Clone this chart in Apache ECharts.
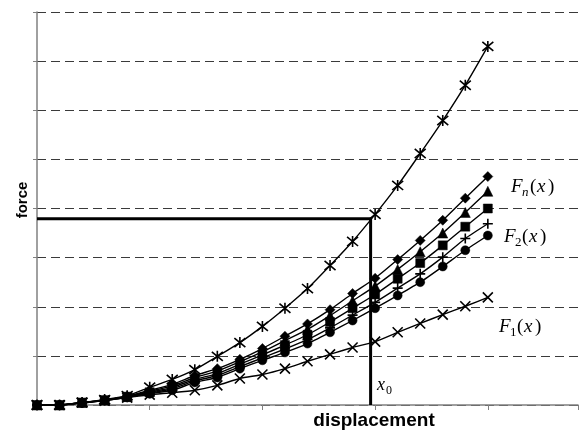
<!DOCTYPE html>
<html><head><meta charset="utf-8">
<script src="https://cdn.jsdelivr.net/npm/echarts@6/dist/echarts.min.js"></script>
<style>html,body{margin:0;padding:0;background:#fff}#c{width:579px;height:432px}</style>
</head><body><div id="c"></div>
<script>
// x positions of samples
const xValues = [0,1,2,3,4,5,6,7,8,9,10,11,12,13,14,15,16,17,18,19,20];
// steep upper curve (star-cross markers)
const fTop = [0,0,0.05,0.11,0.19,0.36,0.52,0.72,0.99,1.27,1.60,1.97,2.37,2.84,3.33,3.88,4.47,5.12,5.79,6.51,7.30];
// F_n (diamonds)
const fDiamond = [0,0,0.05,0.10,0.18,0.30,0.42,0.60,0.74,0.93,1.15,1.40,1.65,1.94,2.27,2.58,2.96,3.35,3.76,4.21,4.65];
// triangles
const fTriangle = [0,0,0.05,0.10,0.17,0.28,0.39,0.56,0.69,0.88,1.08,1.31,1.54,1.82,2.12,2.42,2.76,3.12,3.50,3.92,4.35];
// squares
const fSquare = [0,0,0.05,0.10,0.17,0.26,0.36,0.52,0.64,0.83,1.02,1.22,1.43,1.69,1.97,2.25,2.57,2.89,3.25,3.63,4.00];
// plus
const fPlus = [0,0,0.04,0.09,0.16,0.24,0.33,0.49,0.60,0.78,0.96,1.14,1.33,1.57,1.83,2.09,2.38,2.67,3.01,3.39,3.69];
// F_2 (circles)
const fCircle = [0,0,0.04,0.09,0.16,0.23,0.30,0.46,0.56,0.74,0.91,1.07,1.25,1.48,1.72,1.97,2.23,2.50,2.82,3.15,3.45];
// F_1 (crosses)
const fBottom = [0,0,0.05,0.09,0.15,0.21,0.25,0.30,0.40,0.54,0.62,0.74,0.89,1.03,1.17,1.29,1.48,1.66,1.84,2.01,2.19];
// reference lines at x0
const x0 = 14.8;
const f0 = 3.79;

const pair = arr => xValues.map((x,i)=>[x,arr[i]]);
const crossPath = 'path://M0,0L10,10M10,0L0,10';
const starPath = 'path://M0,0L10,10M10,0L0,10M5,-1L5,11';
const plusPath = 'path://M5,0L5,10M0,5L10,5';

function mk(name, arr, symbol, size, strokeOnly){
  return {
    name, type:'line', data: pair(arr), smooth: 0.2,
    symbol, symbolSize: size, showSymbol: true,
    lineStyle:{color:'#000', width:1.4},
    itemStyle:{color: '#000', borderColor:'#000', borderWidth: strokeOnly?1.6:0.5},
    z: 3
  };
}
const serif = '"Liberation Serif", "Times New Roman", serif';
function t(x, y, text, size, italic){
  return {type:'text', x, y, style:{text, font:(italic?'italic ':'')+size+'px '+serif, fill:'#000', textVerticalAlign:'middle'}};
}

const chart = echarts.init(document.getElementById('c'), null, {renderer:'canvas'});
chart.setOption({
  animation:false,
  backgroundColor:'#fff',
  grid:{left:37, right:1, top:12, bottom:27},
  xAxis:{
    type:'value', min:0, max:24, interval:5,
    axisLine:{lineStyle:{color:'#808080', width:1.5}},
    axisTick:{show:true, length:5, lineStyle:{color:'#808080', width:1}},
    axisLabel:{show:false}, splitLine:{show:false}
  },
  yAxis:{
    type:'value', min:0, max:8, interval:1,
    axisLine:{show:true, lineStyle:{color:'#808080', width:1.5}},
    axisTick:{show:true, length:4, lineStyle:{color:'#808080', width:1}},
    axisLabel:{show:false},
    splitLine:{show:true, lineStyle:{color:'#3a3a3a', width:1, type:[9,5]}}
  },
  series:[
    {type:'line', data:[[0,f0],[x0,f0],[x0,0]], symbol:'none',
     lineStyle:{color:'#000', width:3}, z:2},
    mk('top', fTop, starPath, 11, true),
    mk('diamond', fDiamond, 'diamond', 10, false),
    mk('triangle', fTriangle, 'triangle', 10, false),
    mk('square', fSquare, 'rect', 9, false),
    mk('plus', fPlus, plusPath, 10, true),
    mk('circle', fCircle, 'circle', 9, false),
    mk('bottom', fBottom, crossPath, 10, true)
  ],
  graphic:[
    {type:'text', x:23, y:200, rotation:Math.PI/2, style:{text:'force', font:'bold 15px "Liberation Sans", Arial', fill:'#000', textAlign:'center', textVerticalAlign:'middle'}},
    {type:'text', x:374, y:421, style:{text:'displacement', font:'bold 19px "Liberation Sans", Arial', fill:'#000', textAlign:'center', textVerticalAlign:'middle'}},
    // F_n(x)
    t(511, 187, 'F', 19, true), t(522, 193, 'n', 13, true), t(530, 187, '(', 19, false), t(537, 187, 'x', 19, true), t(548, 187, ')', 19, false),
    // F_2(x)
    t(504, 237, 'F', 19, true), t(515, 243, '2', 13, false), t(522, 237, '(', 19, false), t(529, 237, 'x', 19, true), t(540, 237, ')', 19, false),
    // F_1(x)
    t(499, 327, 'F', 19, true), t(510, 333, '1', 13, false), t(517, 327, '(', 19, false), t(524, 327, 'x', 19, true), t(535, 327, ')', 19, false),
    // x_0
    t(377, 385, 'x', 18, true), t(386, 391, '0', 12, false)
  ]
});
</script></body></html>
